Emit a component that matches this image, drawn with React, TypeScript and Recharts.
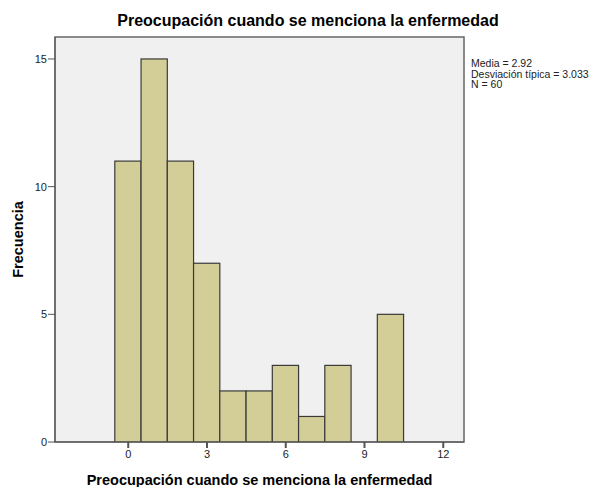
import React from 'react';
import { ComposedChart, Bar, XAxis, YAxis, ReferenceArea, Label } from 'recharts';

const binCenters = [0, 1, 2, 3, 4, 5, 6, 7, 8, 9, 10];
const frequencies = [11, 15, 11, 7, 2, 2, 3, 1, 3, 0, 5];
const xTicks = [0, 3, 6, 9, 12];
const yTicks = [0, 5, 10, 15];
const statsLines = ['Media = 2.92', 'Desviación típica = 3.033', 'N = 60'];
const title = 'Preocupación cuando se menciona la enfermedad';
const xTitle = 'Preocupación cuando se menciona la enfermedad';
const yTitle = 'Frecuencia';

const data = binCenters.map((x, i) => ({ x, f: frequencies[i] }));

const X_DOMAIN: [number, number] = [-2.79, 12.79];
const Y_DOMAIN: [number, number] = [0, 15.86];
const FONT = '"Liberation Sans", Arial, sans-serif';

export default function App() {
  const plotW = 409;
  const unit = plotW / (X_DOMAIN[1] - X_DOMAIN[0]);
  const HistBar = (p: any) => {
    if (!p.height || p.height <= 0) return <g />;
    const cx = p.x + p.width / 2;
    return (
      <rect
        x={cx - unit / 2}
        y={p.y}
        width={unit}
        height={p.height}
        fill="#D3CE97"
        stroke="#3a3a3a"
        strokeWidth={1.2}
      />
    );
  };
  return (
    <div style={{ position: 'absolute', left: 0, top: 0, width: 592, height: 487, background: '#fff', fontFamily: FONT }}>
      <div style={{ position: 'absolute', left: 0, width: 616, top: 12, textAlign: 'center', fontWeight: 'bold', fontSize: 16, color: '#000' }}>
        {title}
      </div>
      <div style={{ position: 'absolute', left: 471, top: 58, fontSize: 10.5, lineHeight: '10.5px', color: '#222' }}>
        {statsLines.map((s) => (
          <div key={s}>{s}</div>
        ))}
      </div>
      <ComposedChart
        width={592}
        height={487}
        data={data}
        margin={{ top: 37, right: 128, bottom: 0, left: 0 }}
        style={{ fontFamily: FONT }}
      >
        <XAxis
          dataKey="x"
          type="number"
          domain={X_DOMAIN}
          ticks={xTicks}
          allowDataOverflow
          height={45}
          stroke="#555"
          tickSize={6}
          tickMargin={2}
          tick={{ fontSize: 11, fill: '#222' }}
          tickLine={{ stroke: '#555', strokeWidth: 2 }}
        >
          <Label value={xTitle} position="insideBottom" offset={2} style={{ fontWeight: 'bold', fontSize: 14.5, fill: '#000' }} />
        </XAxis>
        <YAxis
          type="number"
          domain={Y_DOMAIN}
          ticks={yTicks}
          allowDataOverflow
          width={55}
          stroke="#555"
          tickSize={7}
          tickMargin={1}
          tick={{ fontSize: 11, fill: '#222' }}
        >
          <Label value={yTitle} angle={-90} position="insideLeft" offset={18} style={{ fontWeight: 'bold', fontSize: 14.5, fill: '#000', textAnchor: 'middle' }} />
        </YAxis>
        <ReferenceArea
          x1={X_DOMAIN[0]}
          x2={X_DOMAIN[1]}
          y1={Y_DOMAIN[0]}
          y2={Y_DOMAIN[1]}
          fill="#F0F0F0"
          fillOpacity={1}
          stroke="#666"
          strokeWidth={1.5}
          ifOverflow="visible"
        />
        <Bar dataKey="f" barSize={unit} fill="#D3CE97" shape={HistBar} isAnimationActive={false} />
      </ComposedChart>
    </div>
  );
}
